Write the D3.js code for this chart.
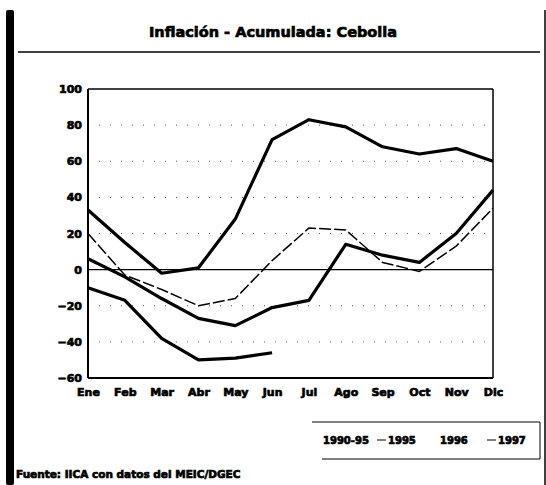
<!DOCTYPE html>
<html>
<head>
<meta charset="utf-8">
<script src="https://cdn.jsdelivr.net/npm/d3@7"></script>
<style>
  body { margin: 0; background: #fff; }
  svg { display: block; }
  text { font-family: "DejaVu Sans", sans-serif; font-weight: bold; fill: #000; stroke: #000; stroke-width: 0.7px; }
</style>
</head>
<body>
<svg id="drawing_region"></svg>
<script>
// data
const months = ["Ene", "Feb", "Mar", "Abr", "May", "Jun", "Jul", "Ago", "Sep", "Oct", "Nov", "Dic"];
const yTicks = [100, 80, 60, 40, 20, 0, -20, -40, -60];
const gridValues = [80, 60, 40, 20, -20, -40];

const v1995 = [33, 15, -2, 1, 28, 72, 83, 79, 68, 64, 67, 60];
const v1996 = [6, -4, -16, -27, -31, -21, -17, 14, 8, 4, 20, 44];
const v9095 = [20, -3, -11, -20, -16, 5, 23, 22, 4, -1, 13, 34];
const v1997 = [-10, -17, -38, -50, -49, -46];

const seriesNames = ["1990-95", "1995", "1996", "1997"];

const series = [
    { name: seriesNames[0], values: v9095, width: 1.5, dash: "12,3" },
    { name: seriesNames[1], values: v1995, width: 3.2, dash: null },
    { name: seriesNames[2], values: v1996, width: 3.2, dash: null },
    { name: seriesNames[3], values: v1997, width: 3.2, dash: null }
];

const width = 546, height = 485;
const margin = { top: 89, right: 53, bottom: 107, left: 88 };
const inner_width = width - margin.left - margin.right;
const inner_height = height - margin.top - margin.bottom;

const svg = d3.select('#drawing_region')
    .attr('width', width)
    .attr('height', height);

// scan frame: thick bar on the left, thin line on the right
svg.append('rect')
    .attr('x', 6).attr('y', 10)
    .attr('width', 8).attr('height', height - 10)
    .attr('rx', 2)
    .attr('fill', '#000');

svg.append('line')
    .attr('x1', 545).attr('x2', 545)
    .attr('y1', 10).attr('y2', height)
    .attr('stroke', '#000').attr('stroke-width', 1.5);

svg.append('text')
    .attr('x', 273).attr('y', 37)
    .attr('text-anchor', 'middle')
    .attr('font-size', '14.5px')
    .text("Inflación - Acumulada: Cebolla");

svg.append('line')
    .attr('x1', 18).attr('x2', 540)
    .attr('y1', 52).attr('y2', 52)
    .attr('stroke', '#000').attr('stroke-width', 1.5);

const chart = svg.append('g')
    .attr('transform', `translate(${margin.left}, ${margin.top})`);

const xscale = d3.scalePoint()
    .domain(months)
    .range([0, inner_width]);

const yscale = d3.scaleLinear()
    .domain([-60, 100])
    .range([inner_height, 0]);

// dotted gridlines
chart.append('g')
    .selectAll('line')
    .data(gridValues)
    .join('line')
    .attr('x1', 0).attr('x2', inner_width)
    .attr('y1', d => yscale(d)).attr('y2', d => yscale(d))
    .attr('stroke', '#555')
    .attr('stroke-width', 1)
    .attr('stroke-dasharray', '1,10');

// zero line
chart.append('line')
    .attr('x1', 0).attr('x2', inner_width)
    .attr('y1', yscale(0)).attr('y2', yscale(0))
    .attr('stroke', '#000').attr('stroke-width', 1.2);

// axes (labels only, frame drawn below)
const yaxis = d3.axisLeft(yscale).tickValues(yTicks).tickSize(0).tickPadding(6);
const xaxis = d3.axisBottom(xscale).tickSize(0).tickPadding(10);

const yaxis_group = chart.append('g').call(yaxis);
yaxis_group.select('.domain').remove();
yaxis_group.selectAll('text')
    .attr('font-size', '11px')
    .attr('font-family', '"DejaVu Sans", sans-serif')
    .attr('font-weight', 'bold');

const xaxis_group = chart.append('g')
    .attr('transform', `translate(0, ${inner_height})`)
    .call(xaxis);
xaxis_group.select('.domain').remove();
xaxis_group.selectAll('text')
    .attr('font-size', '11px')
    .attr('font-family', '"DejaVu Sans", sans-serif')
    .attr('font-weight', 'bold');

// plot frame
chart.append('line').attr('x1', 0).attr('x2', inner_width).attr('y1', 0).attr('y2', 0)
    .attr('stroke', '#000').attr('stroke-width', 1.5);
chart.append('line').attr('x1', inner_width).attr('x2', inner_width).attr('y1', 0).attr('y2', inner_height)
    .attr('stroke', '#000').attr('stroke-width', 1.5);
chart.append('line').attr('x1', 0).attr('x2', 0).attr('y1', 0).attr('y2', inner_height)
    .attr('stroke', '#000').attr('stroke-width', 2);
chart.append('line').attr('x1', 0).attr('x2', inner_width).attr('y1', inner_height).attr('y2', inner_height)
    .attr('stroke', '#000').attr('stroke-width', 2);

const line = d3.line()
    .x((d, i) => xscale(months[i]))
    .y(d => yscale(d));

chart.append('g')
    .selectAll('path')
    .data(series)
    .join('path')
    .attr('d', d => line(d.values))
    .attr('fill', 'none')
    .attr('stroke', '#000')
    .attr('stroke-width', d => d.width)
    .attr('stroke-dasharray', d => d.dash)
    .attr('stroke-linejoin', 'round');

// legend box
const legend = svg.append('g');
legend.append('line').attr('x1', 312).attr('x2', 540).attr('y1', 422).attr('y2', 422)
    .attr('stroke', '#000').attr('stroke-width', 1);
legend.append('line').attr('x1', 322).attr('x2', 540).attr('y1', 459).attr('y2', 459)
    .attr('stroke', '#000').attr('stroke-width', 1);
legend.append('line').attr('x1', 540).attr('x2', 540).attr('y1', 422).attr('y2', 459)
    .attr('stroke', '#000').attr('stroke-width', 1);

const legendItems = [
    { name: seriesNames[0], x: 323, mark: false },
    { name: seriesNames[1], x: 388, mark: true },
    { name: seriesNames[2], x: 440, mark: false },
    { name: seriesNames[3], x: 498, mark: true }
];

legend.selectAll('line.mark')
    .data(legendItems.filter(d => d.mark))
    .join('line')
    .attr('class', 'mark')
    .attr('x1', d => d.x - 11).attr('x2', d => d.x - 2)
    .attr('y1', 440).attr('y2', 440)
    .attr('stroke', '#000').attr('stroke-width', 1);

legend.selectAll('text')
    .data(legendItems)
    .join('text')
    .attr('x', d => d.x)
    .attr('y', 444)
    .attr('font-size', '10px')
    .text(d => d.name);

svg.append('text')
    .attr('x', 16).attr('y', 478)
    .attr('font-size', '10.5px')
    .text("Fuente: IICA con datos del MEIC/DGEC");
</script>
</body>
</html>
